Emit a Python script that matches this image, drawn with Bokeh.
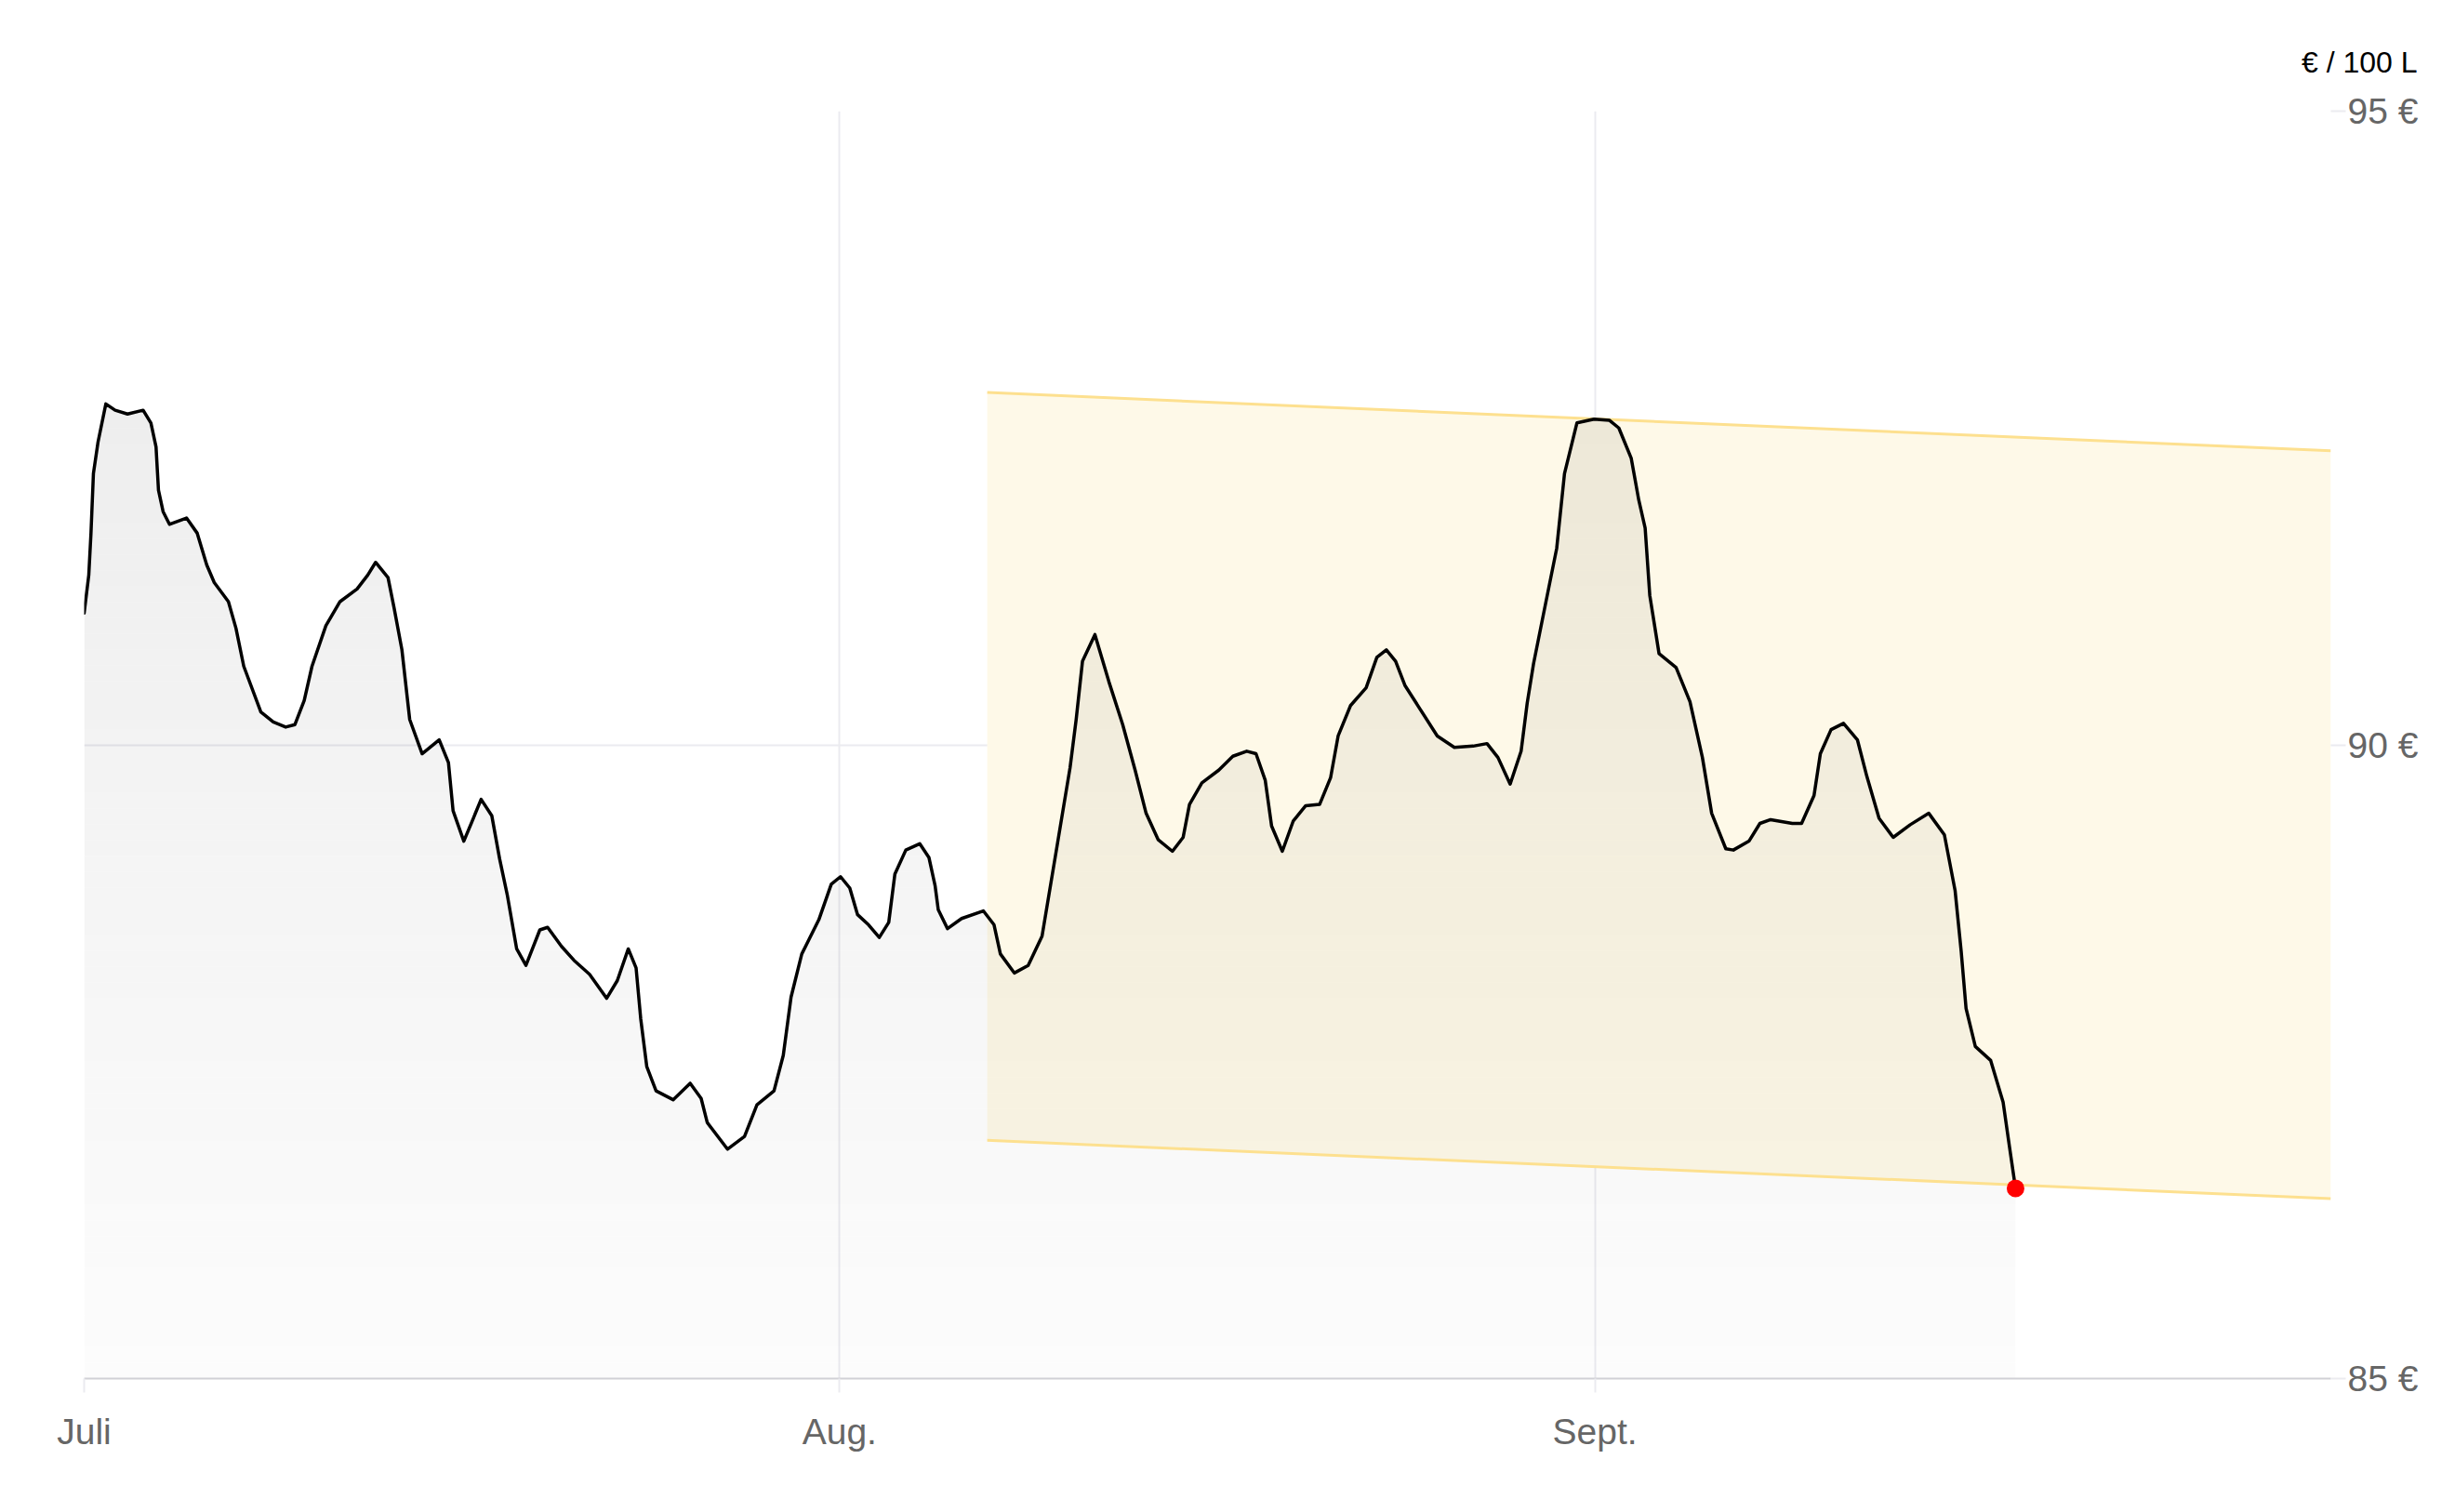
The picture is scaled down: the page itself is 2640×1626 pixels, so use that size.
import numpy as np
import pandas as pd
from bokeh.plotting import figure
from bokeh.models import FixedTicker, Range1d, Title
from bokeh.embed import file_html
from bokeh.resources import INLINE

# ---------------- data ----------------
start_date = "2025-07-01"
# time of each reading, in days since 1 July
price_days = [
    0.00, 0.19, 0.28, 0.38, 0.57, 0.89, 1.27, 1.78, 2.42, 2.74, 2.95, 3.05, 3.24, 3.50,
    4.20, 4.64, 5.03, 5.34, 5.92, 6.23, 6.55, 7.25, 7.76, 8.27, 8.65, 9.03, 9.35, 9.92,
    10.50, 11.20, 11.64, 11.96, 12.47, 12.72, 13.04, 13.36, 13.87, 14.57, 14.95, 15.14,
    15.58, 15.97, 16.29, 16.73, 17.05, 17.37, 17.75, 18.13, 18.70, 19.02, 19.59, 20.10,
    20.74, 21.44, 21.88, 22.33, 22.65, 22.84, 23.09, 23.47, 24.17, 24.87, 25.32, 25.57,
    26.40, 27.10, 27.61, 28.31, 28.69, 29.01, 29.45, 30.15, 30.66, 31.04, 31.42, 31.74,
    32.19, 32.63, 33.02, 33.27, 33.72, 34.29, 34.67, 34.92, 35.05, 35.43, 36.01, 36.90,
    37.34, 37.60, 38.17, 38.74, 39.31, 39.95, 40.46, 40.71, 40.97, 41.48, 42.05, 42.62,
    43.13, 43.58, 44.08, 44.66, 45.10, 45.36, 45.87, 46.56, 47.14, 47.71, 48.09, 48.47,
    48.73, 49.17, 49.62, 50.13, 50.70, 51.15, 51.46, 51.97, 52.61, 53.05, 53.44, 53.82,
    54.20, 54.83, 55.53, 56.23, 57.00, 57.57, 58.02, 58.52, 58.97, 59.22, 59.48, 59.99,
    60.43, 60.75, 61.26, 61.96, 62.60, 62.98, 63.49, 63.80, 64.06, 64.25, 64.63, 65.33,
    65.90, 66.41, 66.79, 67.37, 67.68, 68.32, 68.77, 69.21, 70.10, 70.48, 70.99, 71.25,
    71.69, 72.20, 72.77, 73.16, 73.66, 74.24, 74.94, 75.70, 76.34, 76.78, 77.03, 77.23,
    77.61, 78.24, 78.75, 79.01, 79.26,
]
# price in EUR per 100 L
price_values = [
    91.04, 91.34, 91.67, 92.14, 92.39, 92.69, 92.64, 92.61, 92.64, 92.54, 92.35, 92.01, 91.84, 91.74,
    91.79, 91.67, 91.42, 91.28, 91.13, 90.92, 90.62, 90.26, 90.18, 90.14, 90.16, 90.35, 90.62, 90.94,
    91.13, 91.23, 91.34, 91.44, 91.32, 91.08, 90.75, 90.20, 89.93, 90.04, 89.86, 89.48,
    89.24, 89.42, 89.57, 89.44, 89.10, 88.81, 88.39, 88.26, 88.54, 88.56, 88.41, 88.30,
    88.19, 88.00, 88.14, 88.39, 88.24, 87.84, 87.46, 87.27, 87.20, 87.33, 87.21, 87.02,
    86.81, 86.91, 87.16, 87.27, 87.55, 88.01, 88.35, 88.62, 88.90, 88.96, 88.87, 88.66,
    88.58, 88.48, 88.60, 88.98, 89.17, 89.22, 89.11, 88.89, 88.70, 88.55, 88.63, 88.69,
    88.58, 88.35, 88.20, 88.26, 88.49, 89.23, 89.82, 90.20, 90.66, 90.87, 90.50, 90.16,
    89.80, 89.46, 89.25, 89.16, 89.27, 89.53, 89.70, 89.80, 89.91, 89.95, 89.93, 89.72,
    89.36, 89.16, 89.40, 89.52, 89.53, 89.74, 90.07, 90.31, 90.45, 90.69, 90.75, 90.66,
    90.47, 90.28, 90.07, 89.98, 89.99, 90.01, 89.90, 89.69, 89.95, 90.33, 90.64, 91.13,
    91.55, 92.14, 92.54, 92.57, 92.56, 92.50, 92.26, 91.93, 91.71, 91.18, 90.72, 90.61,
    90.34, 89.90, 89.46, 89.18, 89.17, 89.24, 89.38, 89.41, 89.38, 89.38, 89.60, 89.93,
    90.12, 90.17, 90.04, 89.75, 89.42, 89.27, 89.37, 89.46, 89.29, 88.85, 88.37, 87.92,
    87.62, 87.51, 87.18, 86.83, 86.50,
]

# forecast corridor
band_days = [37.06, 92.2]
band_upper = [92.78, 92.32]
band_lower = [86.88, 86.42]

# axes
x_end_day = 92.2
month_starts = ["2025-07-01", "2025-08-01", "2025-09-01"]
month_labels = ["Juli", "Aug.", "Sept."]
y_ticks = [85, 90, 95]
y_tick_labels = ["85 €", "90 €", "95 €"]
unit_label = "€ / 100 L"

# ---------------- helpers ----------------
DAY_MS = 86400000.0
t0 = pd.Timestamp(start_date).value / 1e6


def to_ms(days):
    return t0 + np.asarray(days, dtype=float) * DAY_MS


x = to_ms(price_days)
y = np.asarray(price_values, dtype=float)
month_ms = [pd.Timestamp(d).value / 1e6 for d in month_starts]

FONT = "Liberation Sans"
GRID = "#ebebf0"

p = figure(
    width=2632, height=1618,
    x_axis_type="datetime", y_axis_location="right",
    x_range=Range1d(t0, float(to_ms([x_end_day])[0])),
    y_range=Range1d(85, 95),
    output_backend="svg", toolbar_location=None,
    min_border_left=90, min_border_right=126,
    min_border_top=119, min_border_bottom=136,
    background_fill_color="white", border_fill_color="white",
)
p.outline_line_color = None

# corridor fill
bx = to_ms(band_days)
p.varea(x=bx, y1=band_lower, y2=band_upper, fill_color="#fef9e8", fill_alpha=1.0)

# gradient area under the price line (stacked thin slices)
xf = np.union1d(x, np.linspace(x[0], x[-1], 1800))
yf = np.interp(xf, x, y)
step = 0.125
for a in np.arange(85.0, float(y.max()) + step, step):
    alpha = 0.012 + (a - 85.0) / 8.0 * 0.058
    p.varea(x=xf, y1=np.full_like(yf, a), y2=np.clip(yf, a, a + step),
            fill_color="black", fill_alpha=alpha)

# corridor edges
p.line(bx, band_upper, line_color="#fde08f", line_width=3)
p.line(bx, band_lower, line_color="#fde08f", line_width=3)

# price line and latest point
p.line(x, y, line_color="black", line_width=3.5, line_join="round", line_cap="round")
p.scatter(x[-1:], y[-1:], size=19, fill_color="#ff0000", line_color=None)

# axes / grids
p.xaxis.ticker = FixedTicker(ticks=month_ms)
p.xaxis.major_label_overrides = {m: lab for m, lab in zip(month_ms, month_labels)}
p.yaxis.ticker = FixedTicker(ticks=y_ticks)
p.yaxis.major_label_overrides = {t: lab for t, lab in zip(y_ticks, y_tick_labels)}

for ax in (p.xaxis, p.yaxis):
    ax.major_label_text_font = FONT
    ax.major_label_text_font_size = "39px"
    ax.major_label_text_color = "#666666"
    ax.minor_tick_line_color = None
    ax.major_tick_line_color = GRID
    ax.major_tick_line_width = 2
    ax.major_tick_in = 0

p.xaxis.axis_line_color = "#d1d1d6"
p.xaxis.axis_line_width = 2
p.xaxis.major_tick_out = 15
p.xaxis.major_label_standoff = 20
p.yaxis.axis_line_color = None
p.yaxis.major_tick_out = 16
p.yaxis.major_label_standoff = 2

p.grid.grid_line_color = GRID
p.grid.grid_line_width = 2

p.add_layout(Title(
    text=unit_label, align="right", offset=-93, standoff=70,
    text_font=FONT, text_font_size="32px", text_color="#000000",
    text_font_style="normal",
), "above")

open("out.html", "w").write(file_html(p, INLINE))
